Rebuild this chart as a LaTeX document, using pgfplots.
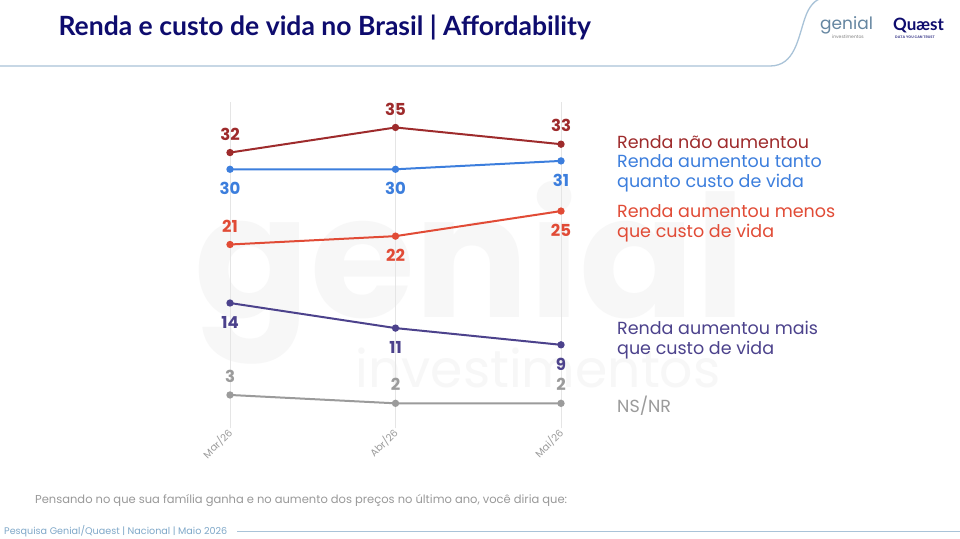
\documentclass[border=0pt]{standalone}
\usepackage{pgfplots}
\pgfplotsset{compat=1.18}
\usepackage{fontspec}
\setmainfont{Poppins}
\newfontfamily\titlefont{Lato}
\definecolor{cDark}{HTML}{9E2B2C}
\definecolor{cBlue}{HTML}{3C7EDD}
\definecolor{cOrange}{HTML}{E14B36}
\definecolor{cPurple}{HTML}{4C428C}
\definecolor{cGray}{HTML}{9B9B9B}
\definecolor{cNavy}{HTML}{0E0C6E}
\definecolor{cLine}{HTML}{A9C3D8}
\definecolor{cFoot}{HTML}{7FA8C9}
\tikzset{lab/.style={font=\fontsize{16.5}{18}\selectfont\bfseries}}
\pgfplotsset{
  above lab/.style={nodes near coords={\pgfmathprintnumber[assume math mode=true]{\pgfplotspointmeta}}, point meta=y, every node near coord/.append style={lab, anchor=south, yshift=8pt}},
  below lab/.style={nodes near coords={\pgfmathprintnumber[assume math mode=true]{\pgfplotspointmeta}}, point meta=y, every node near coord/.append style={lab, anchor=north, yshift=-9pt}},
}
\begin{document}
\begin{tikzpicture}[x=1pt,y=1pt]
\useasboundingbox (0pt,0pt) rectangle (960pt,538pt);
\fill[white] (0pt,0pt) rectangle (960pt,538pt);
% watermark
\node[text=black!3, font=\fontsize{170}{170}\selectfont\bfseries, anchor=center] at (470pt,265pt) {genial};
\node[text=black!3, font=\fontsize{52}{52}\selectfont, anchor=center] at (538pt,170pt) {investimentos};
% header
\node[anchor=west, text=cNavy, font=\titlefont\fontsize{26.5}{28}\selectfont\bfseries] at (55pt,510pt) {Renda e custo de vida no Brasil | Affordability};
\draw[cLine, line width=1.3pt] (0pt,472pt) -- (770pt,472pt) .. controls (795pt,472pt) and (798pt,500pt) .. (805pt,520pt) .. controls (809pt,532pt) and (815pt,538pt) .. (822pt,540pt);
\node[anchor=west, text=cFoot!80!black, font=\fontsize{17}{18}\selectfont, inner sep=0pt] at (820pt,513pt) {genial};
\node[anchor=west, text=gray, font=\fontsize{4.5}{5}\selectfont, inner sep=0pt] at (832pt,501pt) {investimentos};
\node[anchor=west, text=cNavy, font=\titlefont\fontsize{17}{17}\selectfont\bfseries, inner sep=0pt] at (893pt,513pt) {Quæst};
\node[anchor=west, text=cNavy!70, font=\fontsize{3.6}{5}\selectfont\bfseries, inner sep=0pt] at (895pt,501pt) {DATA YOU CAN TRUST};
% axis
\begin{axis}[
  at={(230pt,109.6pt)}, anchor=south west,
  scale only axis, width=331pt, height=326pt,
  xmin=0, xmax=2, ymin=-1, ymax=38,
  axis line style={draw=none},
  xtick={0,1,2}, xticklabels={Mar/26,Abr/26,Mai/26},
  ytick=\empty,
  xmajorgrids, major grid style={black!10, line width=0.6pt},
  tick style={draw=none},
  xticklabel style={rotate=45, anchor=east, text=cGray, font=\fontsize{10}{12}\selectfont, yshift=-2pt, xshift=2pt},
  clip=false,
  every axis plot/.append style={line width=2pt, mark=*, mark size=2.6pt},
]
\addplot[cDark, above lab, every node near coord/.append style={text=cDark}] coordinates {(0,32) (1,35) (2,33)};
\addplot[cBlue, below lab, every node near coord/.append style={text=cBlue}] coordinates {(0,30) (1,30) (2,31)};
\addplot[cOrange] coordinates {(0,21) (1,22) (2,25)};
\addplot[draw=none, mark=none, above lab, every node near coord/.append style={text=cOrange}] coordinates {(0,21)};
\addplot[draw=none, mark=none, below lab, every node near coord/.append style={text=cOrange}] coordinates {(1,22) (2,25)};
\addplot[cPurple, below lab, every node near coord/.append style={text=cPurple}] coordinates {(0,14) (1,11) (2,9)};
\addplot[cGray, above lab, every node near coord/.append style={text=cGray}] coordinates {(0,3) (1,2) (2,2)};
\end{axis}
% right labels
\begin{scope}[every node/.style={anchor=west, font=\fontsize{17.5}{20}\selectfont, align=left, inner sep=0pt}]
\node[text=cDark] at (617pt,396pt) {Renda não aumentou};
\node[text=cBlue] at (617pt,365pt) {Renda aumentou tanto\\quanto custo de vida};
\node[text=cOrange] at (617pt,315pt) {Renda aumentou menos\\que custo de vida};
\node[text=cPurple] at (617pt,198pt) {Renda aumentou mais\\que custo de vida};
\node[text=cGray] at (617pt,132pt) {NS/NR};
\end{scope}
% footer
\node[anchor=west, text=black!40, font=\fontsize{11.5}{13}\selectfont, inner sep=0pt] at (35pt,37pt) {Pensando no que sua família ganha e no aumento dos preços no último ano, você diria que:};
\node[anchor=west, text=cFoot, font=\fontsize{9.6}{10}\selectfont, inner sep=0pt] at (4pt,7pt) {Pesquisa Genial/Quaest | Nacional | Maio 2026};
\draw[cLine, line width=1.2pt] (237pt,6.5pt) -- (960pt,6.5pt);
\end{tikzpicture}
\end{document}
